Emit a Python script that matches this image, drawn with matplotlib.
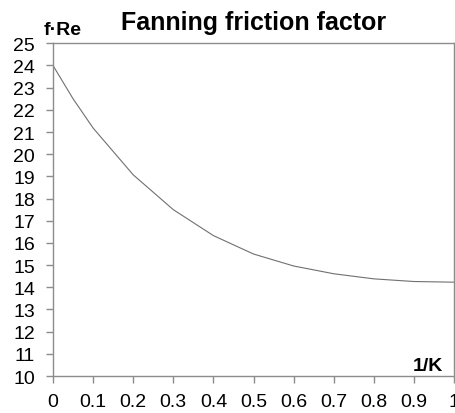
import matplotlib
matplotlib.use("Agg")
import matplotlib.pyplot as plt

# Data
inv_k = [0.0, 0.05, 0.1, 0.2, 0.3, 0.4, 0.5, 0.6, 0.7, 0.8, 0.9, 1.0]
f_re = [24.0, 22.5, 21.18, 19.07, 17.5, 16.33, 15.5, 14.96, 14.61, 14.38, 14.26, 14.23]
x_ticks = [0, 0.1, 0.2, 0.3, 0.4, 0.5, 0.6, 0.7, 0.8, 0.9, 1]
x_tick_labels = ["0", "0.1", "0.2", "0.3", "0.4", "0.5", "0.6", "0.7", "0.8", "0.9", "1"]
y_ticks = list(range(10, 26))
title_text = "Fanning friction factor"
y_label = "f\u00b7Re"
x_label = "1/K"

plt.rcParams['font.family'] = ['Liberation Sans', 'DejaVu Sans']

fig = plt.figure(figsize=(4.55, 4.14), dpi=100)
ax = fig.add_axes([53 / 455, 1 - 377 / 414, 401 / 455, (377 - 44.3) / 414])

ax.plot(inv_k, f_re, color="#707070", linewidth=0.8)

ax.set_xlim(0, 1)
ax.set_ylim(10, 25)
ax.set_xticks(x_ticks)
ax.set_xticklabels(x_tick_labels)
ax.set_yticks(y_ticks)

for s in ax.spines.values():
    s.set_color("#8c8c8c")
    s.set_linewidth(1.0)

ax.tick_params(axis="both", direction="out", length=5, width=1.0,
               color="#8c8c8c", labelsize=14, labelcolor="black")
ax.tick_params(axis="y", pad=8)
ax.tick_params(axis="x", pad=7)

ax.set_title(title_text, fontsize=18, fontweight="bold", pad=10.5)
ax.text(0.025, 1.029, y_label, transform=ax.transAxes, ha="center", va="baseline",
        fontsize=14, fontweight="bold")
ax.text(0.9726, 0.019, x_label, transform=ax.transAxes, ha="right", va="baseline",
        fontsize=14, fontweight="bold")

fig.savefig("out.png", dpi=100)
